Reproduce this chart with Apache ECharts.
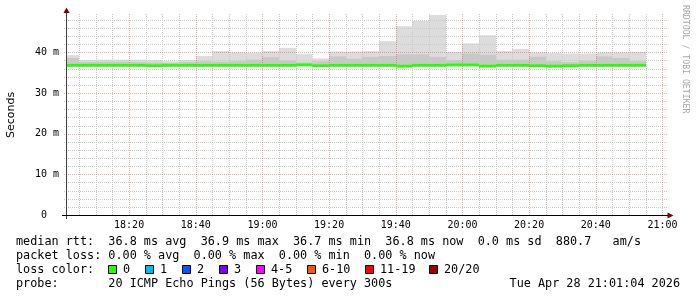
<!DOCTYPE html>
<html><head><meta charset="utf-8">
<script src="https://cdn.jsdelivr.net/npm/echarts@6/dist/echarts.min.js"></script>
<style>html,body{margin:0;padding:0;background:#fff}#c{width:697px;height:297px}</style>
</head><body><div id="c"></div>
<script>
// ---- data ----
const graphStart = '18:01:04';
const graphEnd = '21:01:04';
const probeStepMin = 5;
const binEnds = ['18:05','18:10','18:15','18:20','18:25','18:30','18:35','18:40','18:45','18:50',
  '18:55','19:00','19:05','19:10','19:15','19:20','19:25','19:30','19:35','19:40',
  '19:45','19:50','19:55','20:00','20:05','20:10','20:15','20:20','20:25','20:30',
  '20:35','20:40','20:45','20:50','20:55'];
const smokeTop = [39.3,38.1,38.2,38.2,38.2,38.1,37.8,38.1,39.1,40.3,
  40.0,39.9,40.3,41.1,39.6,38.5,40.2,40.2,40.3,42.75,
  46.4,47.7,49.15,40.1,42.2,44.2,40.3,40.8,40.0,39.8,
  39.7,39.7,40.0,40.0,40.1];
const smokeInnerTop = [38.6,37.6,37.7,37.7,37.6,37.5,37.4,37.6,37.8,37.7,
  37.8,38.2,38.8,38.0,37.5,37.8,39.0,38.4,38.9,39.1,
  39.5,39.5,38.9,38.1,39.7,39.4,38.2,38.2,38.9,37.8,
  37.6,37.9,39.0,38.6,37.8];
const median = [36.8,36.8,36.8,36.8,36.8,36.7,36.8,36.8,36.8,36.8,
  36.8,36.8,36.8,36.8,36.9,36.7,36.8,36.8,36.8,36.8,
  36.6,36.8,36.8,36.9,36.9,36.6,36.8,36.8,36.7,36.6,
  36.7,36.8,36.8,36.8,36.8];
const smokeBottom = [36.45,36.45,36.45,36.45,36.45,36.35,36.45,36.45,36.45,36.45,
  36.45,36.45,36.45,36.45,36.6,36.35,36.45,36.45,36.45,36.45,
  36.25,36.45,36.45,36.55,36.55,36.25,36.45,36.45,36.35,36.25,
  36.35,36.45,36.45,36.45,36.45];
const yTicks = [0,10,20,30,40];
const yMinorTicks = [2,4,6,8,12,14,16,18,22,24,26,28,32,34,36,38,42,44,46,48];
const xTickLabels = ['18:20','18:40','19:00','19:20','19:40','20:00','20:20','20:40','21:00'];
const xMinorTicks = ['18:05','18:10','18:15','18:25','18:30','18:35','18:45','18:50','18:55',
  '19:05','19:10','19:15','19:25','19:30','19:35','19:45','19:50','19:55',
  '20:05','20:10','20:15','20:25','20:30','20:35','20:45','20:50','20:55'];
const yMax = 49.18;
const lossNames = ['0','1','2','3','4-5','6-10','11-19','20/20'];
const lossColors = ['#26ff00','#00b8ff','#0059ff','#7e00ff','#ff00ff','#ff5500','#ff0000','#a00000'];
const legendLines = [
  'median rtt:  36.8 ms avg  36.9 ms max  36.7 ms min  36.8 ms now  0.0 ms sd  880.7   am/s',
  'packet loss: 0.00 % avg  0.00 % max  0.00 % min  0.00 % now',
  'loss color:',
  'probe:       20 ICMP Echo Pings (56 Bytes) every 300s'
];
const stampText = 'Tue Apr 28 21:01:04 2026';
const watermark = 'RRDTOOL / TOBI OETIKER';

// ---- helpers ----
function toMin(s){const p=s.split(':').map(Number);return p[0]*60+p[1]+(p[2]||0)/60;}
function fmt(v){const h=Math.floor(v/60+1e-9), m=Math.round(v-h*60);return String(h).padStart(2,'0')+':'+String(m).padStart(2,'0');}
const xMin = toMin(graphStart), xMax = toMin(graphEnd);

const smokeData = binEnds.map((e,i)=>{const end=toMin(e);return [Math.max(end-probeStepMin,xMin), end, smokeBottom[i], smokeTop[i], median[i], smokeInnerTop[i]];});
const medData = binEnds.map((e,i)=>{const end=toMin(e);return [Math.max(end-probeStepMin,xMin), end, median[i]];});

const chart = echarts.init(document.getElementById('c'), null, {renderer:'canvas'});
const dash = [1,1];
const minorCol = '#cbcbcb', majorCol = 'rgba(222,90,90,0.5)';

function hLines(vals, color){
  return {type:'custom', coordinateSystem:'cartesian2d', clip:false, silent:true, z:3,
    data: vals.map(v=>[xMin, v]),
    renderItem(params, api){
      const a = api.coord([xMin, api.value(1)]), b = api.coord([xMax, api.value(1)]);
      const y = Math.round(a[1]) + 0.5;
      return {type:'line', shape:{x1:a[0]-2, y1:y, x2:b[0]+2, y2:y}, style:{stroke:color, lineWidth:1, lineDash:dash}};
    }};
}
function vLines(vals, color){
  return {type:'custom', coordinateSystem:'cartesian2d', clip:false, silent:true, z:3,
    data: vals.map(v=>[toMin(v), 0]),
    renderItem(params, api){
      const a = api.coord([api.value(0), 0]), b = api.coord([api.value(0), yMax]);
      const x = Math.round(a[0]) + 0.5;
      return {type:'line', shape:{x1:x, y1:a[1], x2:x, y2:b[1]-2}, style:{stroke:color, lineWidth:1, lineDash:dash}};
    }};
}

const graphics = [];
// axis lines and arrows
graphics.push({type:'line', shape:{x1:66.5,y1:219,x2:66.5,y2:12}, style:{stroke:'#444',lineWidth:1}, z:20});
graphics.push({type:'line', shape:{x1:62,y1:215.5,x2:668,y2:215.5}, style:{stroke:'#000',lineWidth:1}, z:20});
graphics.push({type:'polygon', shape:{points:[[63.5,13],[69.5,13],[66.5,7.5]]}, style:{fill:'#7f0000'}, z:21});
graphics.push({type:'polygon', shape:{points:[[667.5,212.5],[667.5,218.5],[673.5,215.5]]}, style:{fill:'#7f0000'}, z:21});
// watermark
graphics.push({type:'text', x:685, y:5, rotation:-Math.PI/2, style:{text:watermark, font:'8.2px "DejaVu Sans Mono"', fill:'#a8a8a8', textAlign:'left', textVerticalAlign:'middle'}});
// legend lines
const rowY = [241.5, 255.5, 269.5, 283.5];
const lf = '11.8px "DejaVu Sans Mono"';
legendLines.forEach((t,i)=>{
  graphics.push({type:'text', x:16, y:rowY[i], style:{text:t, font:lf, fill:'#000', textVerticalAlign:'middle'}});
});
graphics.push({type:'text', x:680, y:rowY[3], style:{text:stampText, font:lf, fill:'#000', textAlign:'right', textVerticalAlign:'middle'}});
const boxX = [108,145,182,219,256,307,365,429];
lossNames.forEach((n,i)=>{
  graphics.push({type:'rect', shape:{x:boxX[i]+0.5,y:265.5,width:8,height:8}, style:{fill:lossColors[i], stroke:'#000', lineWidth:1}});
  graphics.push({type:'text', x:boxX[i]+15, y:rowY[2], style:{text:n, font:lf, fill:'#000', textVerticalAlign:'middle'}});
});

chart.setOption({
  animation:false,
  backgroundColor:'#fff',
  grid:{left:66, right:31, top:15, bottom:82, containLabel:false, outerBoundsMode:'none'},
  xAxis:{type:'value', min:xMin, max:xMax, z:10,
    axisLine:{show:false}, axisTick:{show:false}, splitLine:{show:false},
    axisLabel:{customValues: xTickLabels.map(toMin), formatter: v=>fmt(v), fontFamily:'DejaVu Sans Mono', fontSize:10, color:'#000', margin:5}},
  yAxis:{type:'value', min:0, max:yMax, z:10,
    axisLine:{show:false}, axisTick:{show:false}, splitLine:{show:false},
    axisLabel:{customValues: yTicks, formatter: v=> v===0 ? '0  ' : (v+' m'), fontFamily:'DejaVu Sans Mono', fontSize:10, color:'#000', margin:7},
    name:'Seconds', nameLocation:'middle', nameGap:49, nameRotate:90,
    nameTextStyle:{fontFamily:'DejaVu Sans', fontSize:11, color:'#000'}},
  series:[
    {type:'custom', name:'smoke', coordinateSystem:'cartesian2d', z:1, silent:true,
      data: smokeData,
      renderItem(params, api){
        const s=api.value(0), e=api.value(1), lo=api.value(2), hi=api.value(3), md=api.value(4), ih=api.value(5);
        const a=api.coord([s,hi]), b=api.coord([e,lo]), c=api.coord([s,ih]), d=api.coord([e,md]);
        const x0=Math.round(a[0]), x1=Math.round(b[0]);
        return {type:'group', children:[
          {type:'rect', shape:{x:x0, y:a[1], width:x1-x0, height:b[1]-a[1]}, style:{fill:'#dcdcdc'}},
          {type:'rect', shape:{x:x0, y:c[1], width:x1-x0, height:d[1]-c[1]}, style:{fill:'#c8c8c8'}}
        ]};
      }},
    hLines(yMinorTicks, minorCol),
    vLines(xMinorTicks, minorCol),
    hLines(yTicks.filter(v=>v>0), majorCol),
    vLines(xTickLabels, majorCol),
    {type:'custom', name:'median', coordinateSystem:'cartesian2d', z:5, silent:true,
      data: medData,
      renderItem(params, api){
        const a=api.coord([api.value(0), api.value(2)]), b=api.coord([api.value(1), api.value(2)]);
        const x0=Math.round(a[0]), x1=Math.round(b[0]);
        return {type:'rect', shape:{x:x0, y:a[1]-1.4, width:x1-x0, height:2.8}, style:{fill:lossColors[0]}};
      }}
  ],
  graphic: graphics
});
</script></body></html>
